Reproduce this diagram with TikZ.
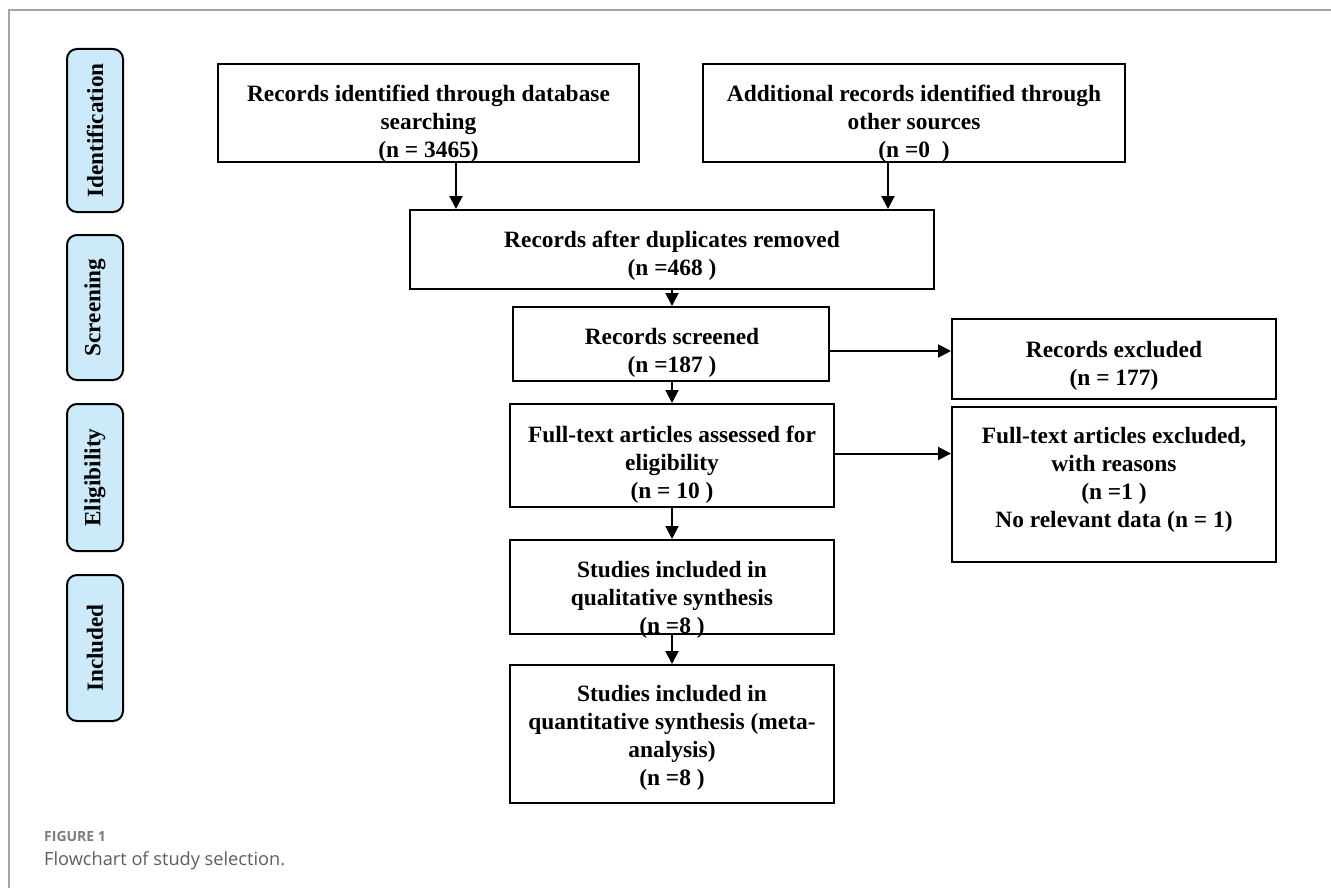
\documentclass[tikz,border=0pt]{standalone}
\usepackage{fontspec}
\setmainfont{Liberation Serif}
\newfontfamily\capfont{Open Sans}
\usetikzlibrary{arrows.meta,calc}
\definecolor{phasefill}{RGB}{204,234,250}
\definecolor{framegray}{RGB}{165,165,165}
\definecolor{capgray}{RGB}{95,95,95}
\definecolor{figgray}{RGB}{125,125,125}
\begin{document}
\begin{tikzpicture}[x=1pt,y=-1pt,
  box/.style={draw=black,line width=2pt,rectangle,inner sep=0pt},
  txt/.style={align=center,inner sep=0pt,font=\fontsize{23.4}{28}\selectfont\bfseries},
  phase/.style={draw=black,line width=2pt,fill=phasefill,rounded corners=10pt,minimum width=56pt,inner sep=0pt},
  ptxt/.style={rotate=90,inner sep=0pt,font=\fontsize{23.2}{28}\selectfont\bfseries},
  arr/.style={line width=2pt,-{Triangle[length=13pt,width=13pt]}}]
\useasboundingbox (0,0) rectangle (1331,888);
\fill[white] (0,0) rectangle (1331,888);
% frame
\draw[framegray,line width=1.5pt] (9,888) -- (9,10) -- (1331,10);
% phase boxes
\node[phase,minimum height=163pt] (pid) at (95,130.5) {};
\node[ptxt] (pidt) at (95,130.5) {Identification};
\node[phase,minimum height=145pt] (psc) at (95,307.5) {};
\node[ptxt] (psct) at (95,307.5) {Screening};
\node[phase,minimum height=147pt] (pel) at (95,477.5) {};
\node[ptxt] (pelt) at (95,477.5) {Eligibility};
\node[phase,minimum height=146pt] (pin) at (95,648) {};
\node[ptxt] (pint) at (95,648) {Included};
% boxes
\node[box,minimum width=421pt,minimum height=98pt] (idb) at (428.5,113) {};
\node[txt] (idbt) at (428.5,123.5) {Records identified through database\\searching\\(n = 3465)};
\node[box,minimum width=422pt,minimum height=98pt] (add) at (914,113) {};
\node[txt] (addt) at (914,124) {Additional records identified through\\other sources\\(n =0\ \ )};
\node[box,minimum width=524pt,minimum height=79pt] (dup) at (672,249.5) {};
\node[txt] (dupt) at (672,256) {Records after duplicates removed\\(n =468 )};
\node[box,minimum width=316pt,minimum height=74pt] (scr) at (671,344) {};
\node[txt] (scrt) at (672,353) {Records screened\\(n =187 )};
\node[box,minimum width=324pt,minimum height=80pt] (rex) at (1114,359) {};
\node[txt] (rext) at (1114,366) {Records excluded\\(n = 177)};
\node[box,minimum width=324pt,minimum height=103pt] (ft) at (672,455.5) {};
\node[txt] (ftt) at (672,464.5) {Full-text articles assessed for\\eligibility\\(n = 10 )};
\node[box,minimum width=324pt,minimum height=155pt] (fex) at (1114,484.5) {};
\node[txt] (fext) at (1114,480) {Full-text articles excluded,\\with reasons\\(n =1 )\\No relevant data (n = 1)};
\node[box,minimum width=324pt,minimum height=94pt] (qual) at (672,587) {};
\node[txt] (qualt) at (672,600) {Studies included in\\qualitative synthesis\\(n =8 )};
\node[box,minimum width=324pt,minimum height=138pt] (quant) at (672,734) {};
\node[txt] (quantt) at (672,738) {Studies included in\\quantitative synthesis (meta-\\analysis)\\(n =8 )};
% connectors
\draw[arr] ([xshift=27.5pt]idb.south) -- ([xshift=27.5pt]idb.south |- dup.north);
\draw[arr] ([xshift=-26pt]add.south) -- ([xshift=-26pt]add.south |- dup.north);
\draw[arr] (dup.south) -- (dup.south |- scr.north);
\draw[arr] ([yshift=-7pt]scr.east) -- ([yshift=-7pt]scr.east -| rex.west);
\draw[arr] (ft.north |- scr.south) -- (ft.north);
\draw[arr] ([yshift=2pt]ft.east) -- ([yshift=2pt]ft.east -| fex.west);
\draw[arr] (ft.south) -- (qual.north);
\draw[arr] (qual.south) -- (quant.north);
% caption
\node[anchor=base west,inner sep=0pt,text=figgray,font=\capfont\fontsize{14}{16}\selectfont\bfseries] (fig) at (44,841) {FIGURE 1};
\node[anchor=base west,inner sep=0pt,text=capgray,font=\capfont\fontsize{18.2}{21}\selectfont] (cap) at (44,865) {Flowchart of study selection.};
\end{tikzpicture}
\end{document}
